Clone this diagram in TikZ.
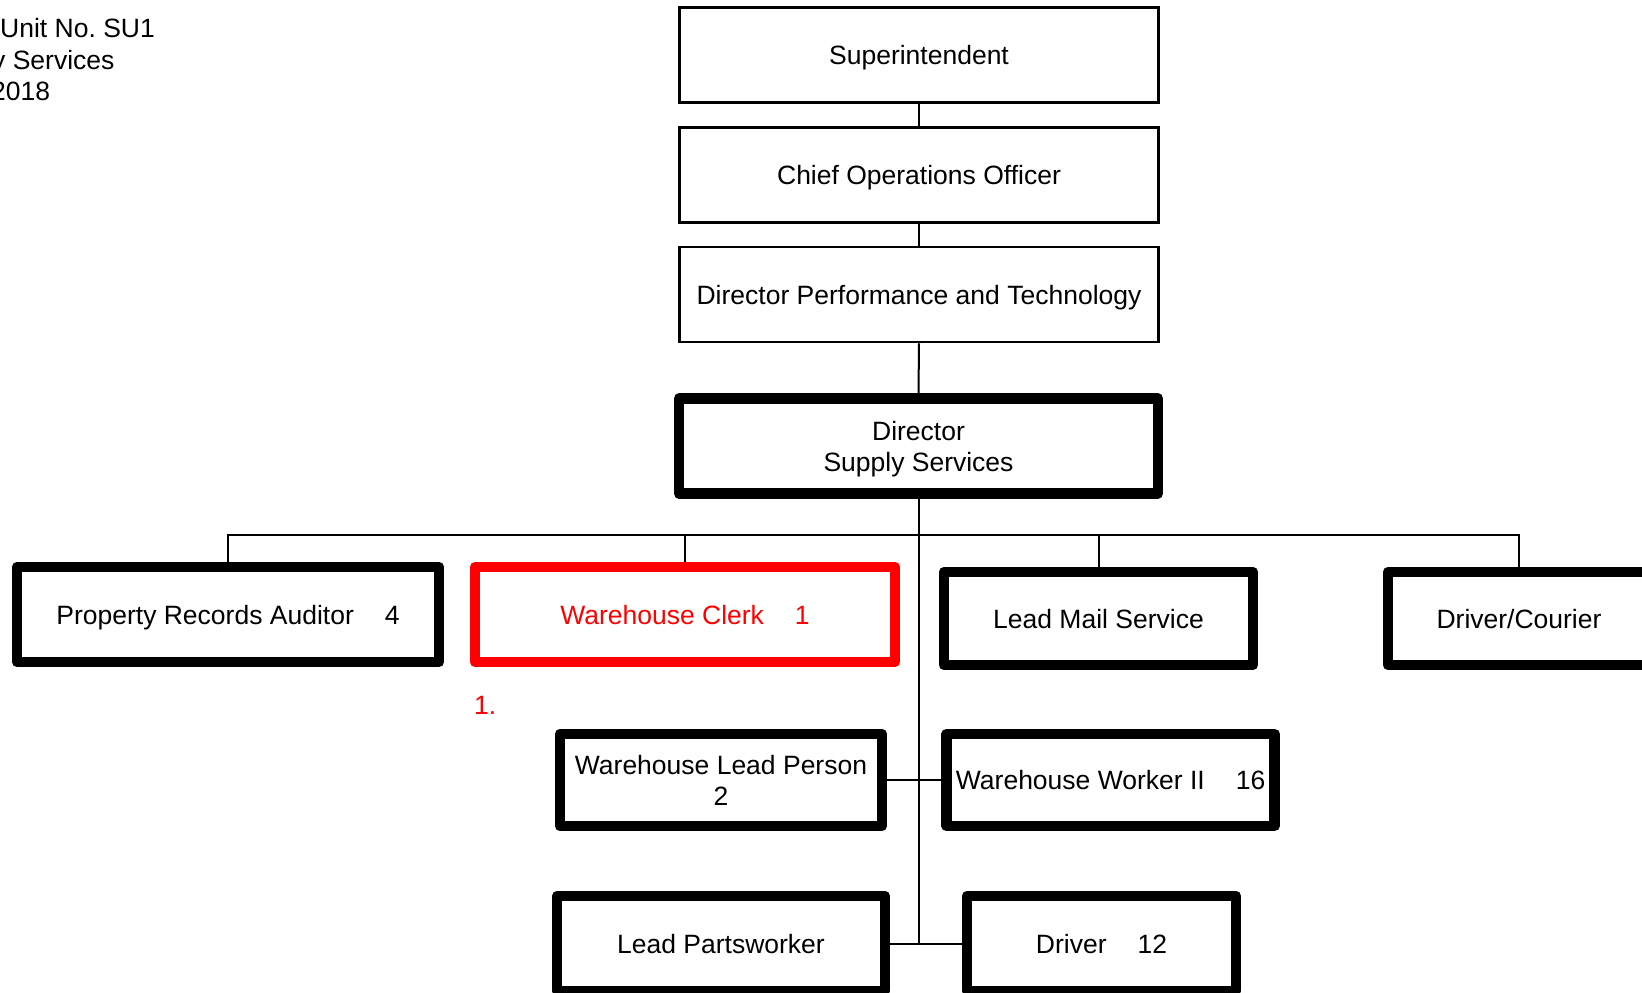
\documentclass[tikz,border=0pt]{standalone}
\usepackage{fontspec}
\setmainfont{Liberation Sans}
\frenchspacing
\newcommand{\sepgap}{\hspace{31pt}}
\begin{document}
\begin{tikzpicture}[x=1pt,y=-1pt,
  every node/.style={font=\fontsize{26.5}{31}\selectfont, inner sep=0pt, text height=19pt, text depth=0pt, align=center},
  twoline/.style={text height=50pt, text depth=0pt},
  thinbox/.style={draw, line width=2.5pt, minimum width=479pt, minimum height=95pt},
  thickbox/.style={draw, line width=10.5pt, line join=round},
  redbox/.style={thickbox, draw=red, text=red},
  conn/.style={line width=2pt},
  note/.style={anchor=base west}]
\useasboundingbox (0,0) rectangle (1642,993);
\clip (0,0) rectangle (1642,993);
\fill[white] (0,0) rectangle (1642,993);

% top-left header
\node[note] (t1) at (0,37) {Unit No. SU1};
\node[note] (t2) at (-8,69) {y Services};
\node[note] (t3) at (-9,100.5) {2018};

% chain
\node[thinbox] (sup) at (919,54.75) {Superintendent};
\node[thinbox] (coo) at (919,174.75) {Chief Operations Officer};
\node[thinbox] (dpt) at (919,294.5) {Director Performance and Technology};
\node[thickbox, twoline, minimum width=479pt, minimum height=94.6pt] (dss) at (918.5,446) {Director\\Supply Services};

% second row
\node[thickbox, minimum width=422pt, minimum height=95pt] (pra) at (228,614.5) {Property Records Auditor\sepgap 4};
\node[redbox, minimum width=420pt, minimum height=95pt] (wc) at (685,614.5) {Warehouse Clerk\sepgap 1};
\node[thickbox, minimum width=309pt, minimum height=93pt] (lms) at (1098.5,618.5) {Lead Mail Service};
\node[thickbox, minimum width=262pt, minimum height=93pt] (dc) at (1519,618.5) {Driver/Courier};
\node[note, text=red] (n1) at (474,714) {1.};

% lower rows
\node[thickbox, twoline, minimum width=322pt, minimum height=92pt] (wlp) at (721,780) {Warehouse Lead Person\\2};
\node[thickbox, minimum width=328pt, minimum height=92pt] (ww) at (1110.6,780) {Warehouse Worker II\sepgap 16};
\node[thickbox, minimum width=328pt, minimum height=95pt] (lp) at (721,943.5) {Lead Partsworker};
\node[thickbox, minimum width=269pt, minimum height=95pt] (drv) at (1101.5,943.5) {Driver\sepgap 12};

% connectors
\coordinate (bus) at (919,535);
\draw[conn] (sup.south) -- (coo.north);
\draw[conn] (coo.south) -- (dpt.north);
\draw[conn] (dpt.south) -- (dss.north);
\draw[conn] (dss.south) -- (dss.south |- drv.west);
\draw[conn] (pra.north) |- (dc.north |- bus) -- (dc.north);
\draw[conn] (wc.north) -- (wc.north |- bus);
\draw[conn] (lms.north) -- (lms.north |- bus);
\draw[conn] (wlp.east) -- (ww.west);
\draw[conn] (lp.east) -- (drv.west);
\end{tikzpicture}
\end{document}
